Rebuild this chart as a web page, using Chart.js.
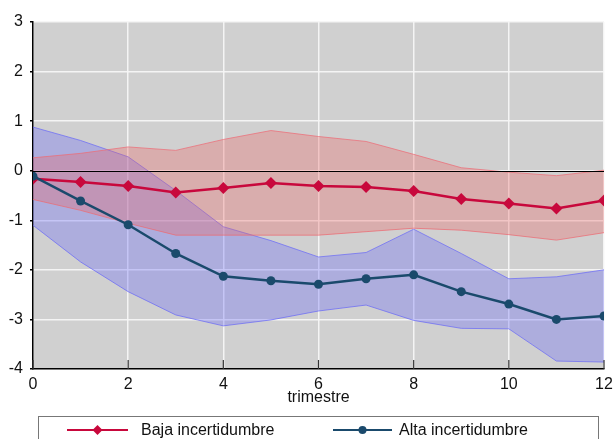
<!DOCTYPE html>
<html>
<head>
<meta charset="utf-8">
<script src="https://cdn.jsdelivr.net/npm/chart.js@4.4.1/dist/chart.umd.min.js"></script>
<style>
  html, body { margin: 0; padding: 0; background: #fff; }
  #wrap { width: 613px; height: 439px; }
</style>
</head>
<body>
<div id="wrap"><canvas id="c" width="613" height="439"></canvas></div>
<script>
// Horizon in quarters
const quarters = [0, 1, 2, 3, 4, 5, 6, 7, 8, 9, 10, 11, 12];

// Low uncertainty response and its band
const bajaMid   = [-0.16, -0.23, -0.31, -0.44, -0.35, -0.25, -0.31, -0.33, -0.41, -0.57, -0.66, -0.76, -0.60];
const bajaUpper = [0.26, 0.35, 0.48, 0.41, 0.63, 0.81, 0.69, 0.59, 0.33, 0.06, -0.03, -0.10, 0.01];
const bajaLower = [-0.58, -0.80, -1.06, -1.30, -1.30, -1.30, -1.30, -1.23, -1.16, -1.20, -1.29, -1.40, -1.25];

// High uncertainty response and its band
const altaMid   = [-0.11, -0.61, -1.09, -1.67, -2.13, -2.22, -2.29, -2.18, -2.10, -2.44, -2.69, -3.00, -2.93];
const altaUpper = [0.88, 0.61, 0.28, -0.40, -1.13, -1.41, -1.74, -1.65, -1.18, -1.67, -2.18, -2.14, -2.00];
const altaLower = [-1.10, -1.84, -2.44, -2.91, -3.13, -3.01, -2.83, -2.71, -3.02, -3.18, -3.19, -3.84, -3.86];

const xTicks = [0, 2, 4, 6, 8, 10, 12];
const yTicks = [-4, -3, -2, -1, 0, 1, 2, 3];

const seriesNames = ['Baja incertidumbre', 'Alta incertidumbre'];
const xTitle = 'trimestre';

const RED = '#c8083c';
const BLUE = '#1a4a6c';

const pts = arr => quarters.map((q, i) => ({ x: q, y: arr[i] }));

const FONT = "'Liberation Sans', Arial, sans-serif";

const plotDecor = {
  id: 'plotDecor',
  beforeDraw(chart) {
    const { ctx, chartArea: a } = chart;
    ctx.save();
    ctx.fillStyle = '#d0d0d0';
    ctx.fillRect(a.left, a.top, a.right - a.left, a.bottom - a.top);
    ctx.restore();
  },
  afterDatasetsDraw(chart) {
    const { ctx, chartArea: a, scales } = chart;
    const y0 = scales.y.getPixelForValue(0);
    ctx.save();
    ctx.strokeStyle = '#000';
    ctx.lineWidth = 1;
    ctx.beginPath();
    ctx.moveTo(a.left, Math.round(y0) + 0.5);
    ctx.lineTo(a.right, Math.round(y0) + 0.5);
    ctx.stroke();
    // inward ticks on the horizontal axis
    ctx.strokeStyle = '#333';
    ctx.lineWidth = 1.2;
    xTicks.forEach(t => {
      const px = scales.x.getPixelForValue(t);
      ctx.beginPath();
      ctx.moveTo(px, a.bottom);
      ctx.lineTo(px, a.bottom - 9);
      ctx.stroke();
    });
    ctx.restore();
  },
  afterDraw(chart) {
    const { ctx } = chart;
    ctx.save();
    // legend frame
    ctx.strokeStyle = '#777';
    ctx.lineWidth = 1;
    ctx.strokeRect(38.5, 416.5, 560, 40);
    const ly = 430;
    const items = [
      { name: seriesNames[0], color: RED, style: 'diamond', x0: 67, x1: 128, tx: 141 },
      { name: seriesNames[1], color: BLUE, style: 'circle', x0: 333, x1: 392, tx: 399 }
    ];
    ctx.font = '16px ' + FONT;
    ctx.textBaseline = 'middle';
    items.forEach(it => {
      ctx.strokeStyle = it.color;
      ctx.fillStyle = it.color;
      ctx.lineWidth = 2;
      ctx.beginPath();
      ctx.moveTo(it.x0, ly);
      ctx.lineTo(it.x1, ly);
      ctx.stroke();
      const cx = (it.x0 + it.x1) / 2;
      ctx.beginPath();
      if (it.style === 'diamond') {
        ctx.moveTo(cx, ly - 5);
        ctx.lineTo(cx + 5, ly);
        ctx.lineTo(cx, ly + 5);
        ctx.lineTo(cx - 5, ly);
        ctx.closePath();
      } else {
        ctx.arc(cx, ly, 4, 0, Math.PI * 2);
      }
      ctx.fill();
      ctx.fillStyle = '#111';
      ctx.textAlign = 'left';
      ctx.fillText(it.name, it.tx, ly + 1);
    });
    ctx.restore();
  }
};

const bandFillRed = 'rgba(236, 100, 100, 0.32)';
const bandEdgeRed = 'rgba(236, 110, 120, 0.75)';
const bandFillBlue = 'rgba(100, 100, 248, 0.32)';
const bandEdgeBlue = 'rgba(110, 110, 245, 0.75)';

new Chart(document.getElementById('c'), {
  type: 'line',
  data: {
    datasets: [
      {
        label: seriesNames[1], data: pts(altaMid), order: 0,
        borderColor: BLUE, backgroundColor: BLUE, borderWidth: 2.5,
        pointStyle: 'circle', pointRadius: 4.5, pointBorderWidth: 0, fill: false
      },
      {
        label: seriesNames[0], data: pts(bajaMid), order: 1,
        borderColor: RED, backgroundColor: RED, borderWidth: 2.5,
        pointStyle: 'rectRot', pointRadius: 6, pointBorderWidth: 0, fill: false
      },
      {
        label: 'baja_sup', data: pts(bajaUpper), order: 2,
        borderColor: bandEdgeRed, borderWidth: 1, pointRadius: 0,
        backgroundColor: bandFillRed, fill: 3
      },
      {
        label: 'baja_inf', data: pts(bajaLower), order: 2,
        borderColor: bandEdgeRed, borderWidth: 1, pointRadius: 0, fill: false
      },
      {
        label: 'alta_sup', data: pts(altaUpper), order: 3,
        borderColor: bandEdgeBlue, borderWidth: 1, pointRadius: 0,
        backgroundColor: bandFillBlue, fill: 5
      },
      {
        label: 'alta_inf', data: pts(altaLower), order: 3,
        borderColor: bandEdgeBlue, borderWidth: 1, pointRadius: 0, fill: false
      }
    ]
  },
  options: {
    responsive: false,
    animation: false,
    layout: { padding: { top: 22, right: 9, bottom: 28, left: 0 } },
    plugins: {
      legend: { display: false },
      tooltip: { enabled: false },
      filler: { propagate: false }
    },
    elements: { line: { tension: 0 } },
    scales: {
      x: {
        type: 'linear', min: 0, max: 12,
        afterFit: s => { s.height = 42; s.paddingLeft = 0; s.paddingRight = 0; },
        afterBuildTicks: s => { s.ticks = xTicks.map(v => ({ value: v })); },
        grid: { color: 'rgba(245,245,245,0.95)', lineWidth: 1.5, drawTicks: false },
        border: { color: '#000', width: 1.5 },
        ticks: { color: '#111', padding: 6, font: { family: FONT, size: 16 }, maxRotation: 0 },
        title: { display: true, text: xTitle, color: '#111', font: { family: FONT, size: 16 }, padding: { top: 0, bottom: 4 } }
      },
      y: {
        type: 'linear', min: -4, max: 3,
        afterFit: s => { s.width = 33; s.paddingTop = 0; s.paddingBottom = 0; },
        afterBuildTicks: s => { s.ticks = yTicks.map(v => ({ value: v })); },
        grid: { color: 'rgba(245,245,245,0.95)', lineWidth: 1.5, tickColor: '#000', tickLength: 3 },
        border: { color: '#000', width: 1.5 },
        ticks: { color: '#111', padding: 7, font: { family: FONT, size: 16 } }
      }
    }
  },
  plugins: [plotDecor]
});
</script>
</body>
</html>
